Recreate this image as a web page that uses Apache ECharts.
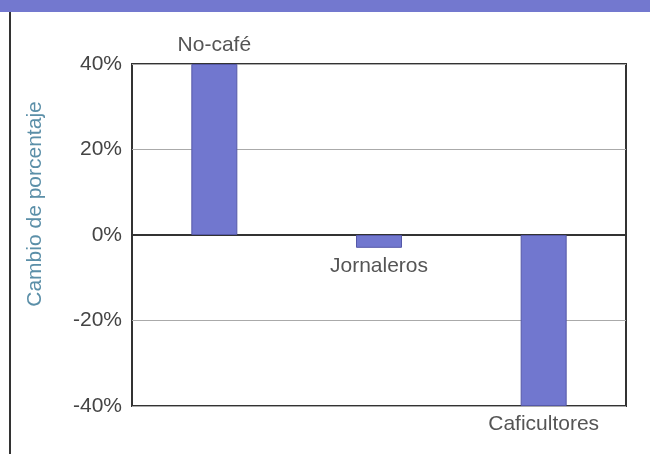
<!DOCTYPE html>
<html>
<head>
<meta charset="utf-8">
<script src="https://cdn.jsdelivr.net/npm/echarts@6/dist/echarts.min.js"></script>
<style>html,body{margin:0;padding:0;background:#fff}#c{width:650px;height:454px}</style>
</head>
<body>
<div id="c"></div>
<script>
const categories = ['No-café', 'Jornaleros', 'Caficultores'];
const values = [40, -3, -40];
const yTicks = [-40, -20, 0, 20, 40];
const axisTitle = 'Cambio de porcentaje';

const chart = echarts.init(document.getElementById('c'), null, {renderer: 'canvas'});
const font = 'Liberation Sans, Arial, sans-serif';
chart.setOption({
  backgroundColor: '#fff',
  animation: false,
  grid: {left: 132, right: 24, top: 64, bottom: 48, show: true, borderColor: '#333', borderWidth: 2, backgroundColor: 'transparent'},
  xAxis: {
    type: 'category', data: categories,
    axisLine: {show: true, onZero: true, lineStyle: {color: '#333', width: 2}},
    axisTick: {show: false}, axisLabel: {show: false}, splitLine: {show: false}
  },
  yAxis: {
    type: 'value', min: yTicks[0], max: yTicks[yTicks.length - 1], interval: 20,
    axisLine: {show: false}, axisTick: {show: false},
    axisLabel: {formatter: v => v + '%', color: '#444', fontFamily: font, fontSize: 21, margin: 10},
    splitLine: {lineStyle: {color: '#aaa', width: 1}}
  },
  graphic: [
    {type: 'rect', shape: {x: 0, y: 0, width: 650, height: 12}, style: {fill: '#7378cf'}},
    {type: 'rect', shape: {x: 9, y: 12, width: 2, height: 442}, style: {fill: '#333'}},
    {type: 'text', x: 35, y: 204, rotation: Math.PI / 2,
     style: {text: axisTitle, fill: '#5b8fa8', font: '21px ' + font, textAlign: 'center', textVerticalAlign: 'middle'}}
  ],
  series: [{
    type: 'bar', data: values, barWidth: 46,
    itemStyle: {color: '#7177cf', borderColor: '#5558a8', borderWidth: 1},
    label: {show: true, position: 'outside', distance: 8, formatter: p => p.name,
            color: '#555', fontFamily: font, fontSize: 21}
  }]
});
</script>
</body>
</html>
